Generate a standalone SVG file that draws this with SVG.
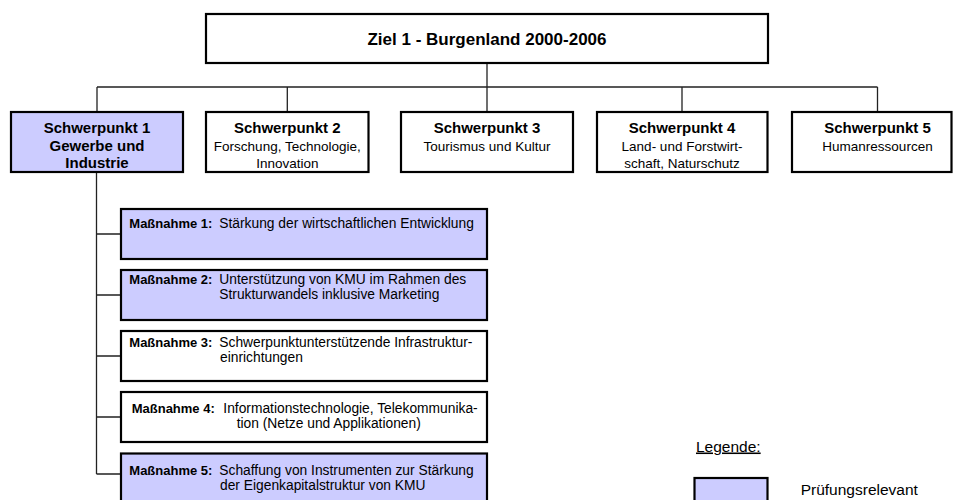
<svg xmlns="http://www.w3.org/2000/svg" width="953" height="500" viewBox="0 0 953 500">
<style>
  .box { fill: #ffffff; stroke: #000000; stroke-width: 2.2; }
  .hl { fill: #ccccff; }
  .con { fill: none; stroke: #222222; stroke-width: 1.3; }
  text { font-family: "Liberation Sans", Arial, sans-serif; fill: #000000; }
  .title { font-size: 17px; font-weight: bold; text-anchor: middle; }
  .sb { font-size: 15px; font-weight: bold; text-anchor: middle; }
  .sr { font-size: 13.5px; text-anchor: middle; }
  .mb { font-size: 13px; font-weight: bold; }
  .mr { font-size: 13.8px; }
  .leg { font-size: 15.5px; }
</style>
<rect width="953" height="500" fill="#ffffff"/>
<g id="connectors">
  <path class="con" d="M487 63 V87 M97 87 H877.5 M97 87 V112 M287.3 87 V112 M487 87 V112 M682 87 V112 M877.5 87 V112"/>
  <path class="con" d="M96.5 172 V474 M96.5 234 H121 M96.5 295 H121 M96.5 356 H121 M96.5 417 H121 M96.5 474 H121"/>
</g>
<g id="ziel1">
  <rect class="box" x="206" y="14" width="562" height="49"/>
  <text class="title" x="487" y="45">Ziel 1 - Burgenland 2000-2006</text>
</g>
<g id="sp1">
  <rect class="box hl" x="11" y="112" width="172" height="60"/>
  <text class="sb" x="97" y="133">Schwerpunkt 1</text>
  <text class="sb" x="97" y="150.5">Gewerbe und</text>
  <text class="sb" x="97" y="168">Industrie</text>
</g>
<g id="sp2">
  <rect class="box" x="206" y="112" width="162.5" height="60"/>
  <text class="sb" x="287.3" y="133">Schwerpunkt 2</text>
  <text class="sr" x="287.3" y="150.5">Forschung, Technologie,</text>
  <text class="sr" x="287.3" y="167.5">Innovation</text>
</g>
<g id="sp3">
  <rect class="box" x="401" y="112" width="172" height="60"/>
  <text class="sb" x="487" y="133">Schwerpunkt 3</text>
  <text class="sr" x="487" y="150.5">Tourismus und Kultur</text>
</g>
<g id="sp4">
  <rect class="box" x="597" y="112" width="170.5" height="60"/>
  <text class="sb" x="682" y="133">Schwerpunkt 4</text>
  <text class="sr" x="682" y="150.5">Land- und Forstwirt-</text>
  <text class="sr" x="682" y="167.5">schaft, Naturschutz</text>
</g>
<g id="sp5">
  <rect class="box" x="792" y="112" width="159.5" height="60"/>
  <text class="sb" x="877.5" y="133">Schwerpunkt 5</text>
  <text class="sr" x="877.5" y="150.5">Humanressourcen</text>
</g>
<g id="m1">
  <rect class="box hl" x="121" y="209" width="366" height="50"/>
  <text x="129.3" y="227.5"><tspan class="mb">Maßnahme 1:</tspan><tspan class="mr" x="219.3">Stärkung der wirtschaftlichen Entwicklung</tspan></text>
</g>
<g id="m2">
  <rect class="box hl" x="121" y="270" width="366" height="50"/>
  <text x="129.3" y="283.5"><tspan class="mb">Maßnahme 2:</tspan><tspan class="mr" x="219.3">Unterstützung von KMU im Rahmen des</tspan></text>
  <text class="mr" x="219.3" y="298.5">Strukturwandels inklusive Marketing</text>
</g>
<g id="m3">
  <rect class="box" x="121" y="331" width="366" height="50"/>
  <text x="129.3" y="347"><tspan class="mb">Maßnahme 3:</tspan><tspan class="mr" x="219.3">Schwerpunktunterstützende Infrastruktur-</tspan></text>
  <text class="mr" x="220" y="362">einrichtungen</text>
</g>
<g id="m4">
  <rect class="box" x="121" y="392" width="366" height="50"/>
  <text x="131.7" y="413"><tspan class="mb">Maßnahme 4:</tspan><tspan class="mr" x="223.3">Informationstechnologie, Telekommunika-</tspan></text>
  <text class="mr" x="236.7" y="428">tion (Netze und Applikationen)</text>
</g>
<g id="m5">
  <rect class="box hl" x="121" y="453.5" width="366" height="52"/>
  <text x="129.3" y="475"><tspan class="mb">Maßnahme 5:</tspan><tspan class="mr" x="219.3">Schaffung von Instrumenten zur Stärkung</tspan></text>
  <text class="mr" x="220" y="490">der Eigenkapitalstruktur von KMU</text>
</g>
<g id="legend">
  <text class="leg" x="696" y="451.5" text-decoration="underline">Legende:</text>
  <rect class="box hl" x="694.5" y="478" width="73" height="30"/>
  <text class="leg" x="800.7" y="495">Prüfungsrelevant</text>
</g>
</svg>
